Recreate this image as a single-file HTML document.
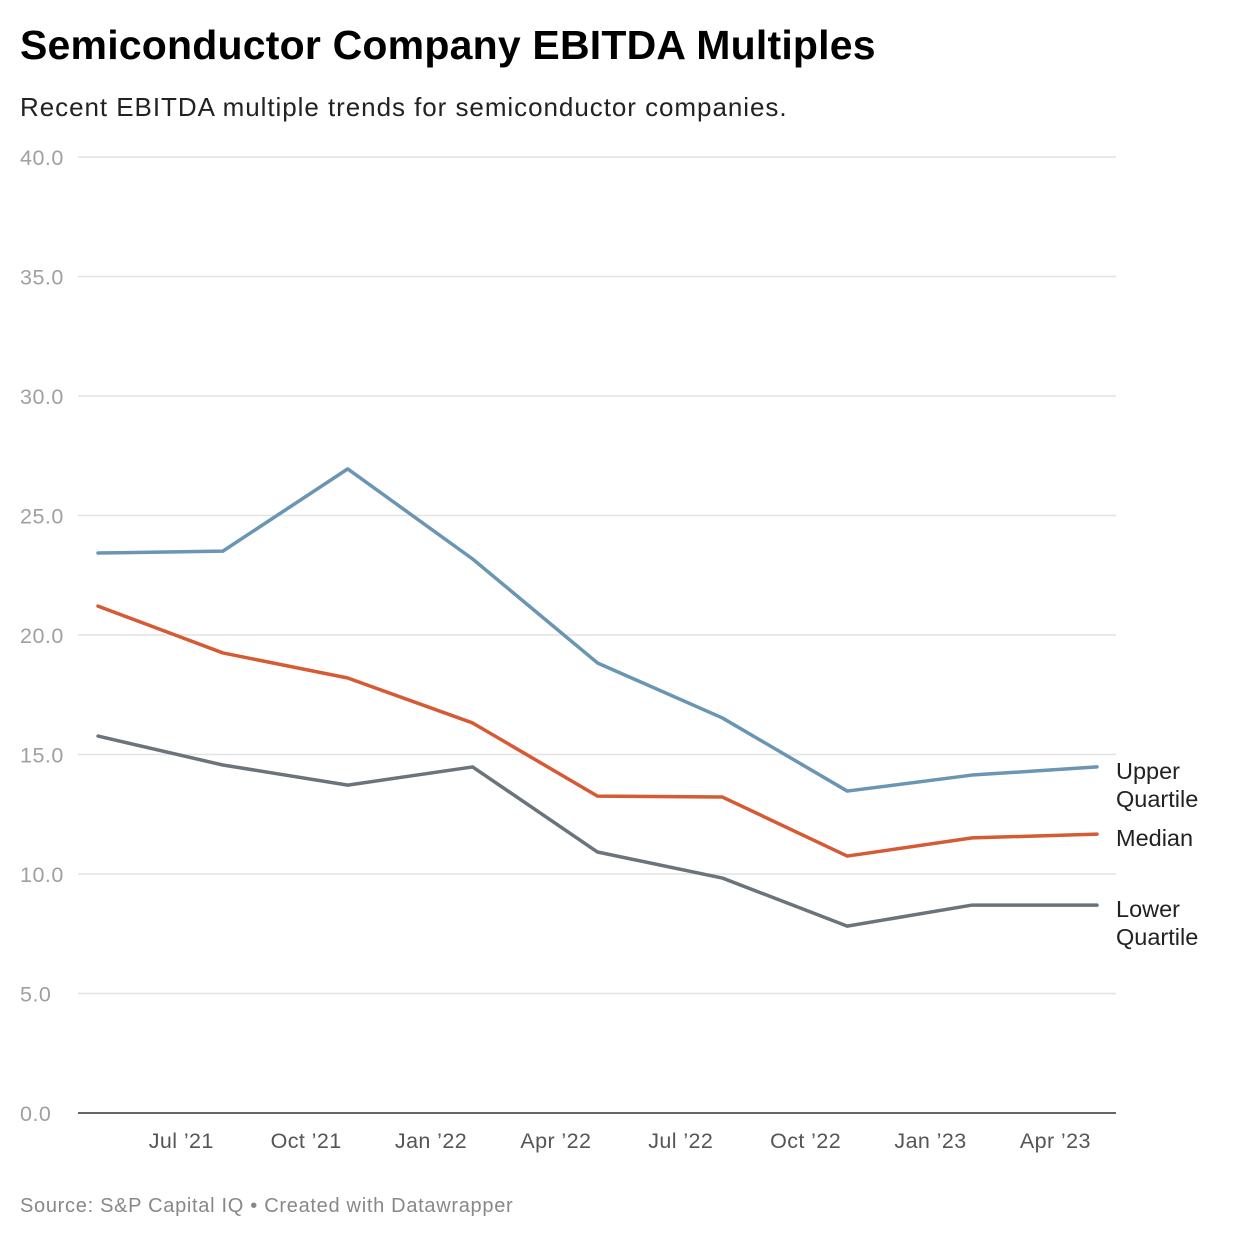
<!DOCTYPE html>
<html><head><meta charset="utf-8">
<style>
body{margin:0;background:#fff;font-family:"Liberation Sans",sans-serif;}
#wrap{position:relative;width:1240px;height:1240px;overflow:hidden}
.title{position:absolute;left:20px;top:22px;font-size:41px;font-weight:bold;color:#000;letter-spacing:0.2px}
.sub{position:absolute;left:20px;top:92px;font-size:26px;color:#222;letter-spacing:0.95px}
.src{position:absolute;left:20px;top:1195px;font-size:20px;color:#888;letter-spacing:0.7px}
</style></head><body>
<div id="wrap">
<div class="title">Semiconductor Company EBITDA Multiples</div>
<div class="sub">Recent EBITDA multiple trends for semiconductor companies.</div>
<svg id="chart" width="1240" height="1240" style="position:absolute;left:0;top:0"></svg>
<div class="src">Source: S&amp;P Capital IQ • Created with Datawrapper</div>
</div>
<script>
const upperValues=[23.43,23.51,26.95,23.18,18.83,16.53,13.47,14.14,14.48];
const medianValues=[21.21,19.25,18.20,16.32,13.26,13.22,10.75,11.51,11.67];
const lowerValues=[15.77,14.56,13.72,14.48,10.92,9.83,7.82,8.70,8.70];
const yTicks=[0,5,10,15,20,25,30,35,40];
const xTickLabels=["Jul ’21","Oct ’21","Jan ’22","Apr ’22","Jul ’22","Oct ’22","Jan ’23","Apr ’23"];

const svg=document.getElementById('chart');
const NS='http://www.w3.org/2000/svg';
function y(v){return 1113-v*(1113-157)/40;}
function x(m){return 98+m*(1097-98)/24;}
function mk(t,a){const e=document.createElementNS(NS,t);for(const k in a)e.setAttribute(k,a[k]);svg.appendChild(e);return e;}

yTicks.forEach(t=>{
  if(t>0){const g=mk('line',{x1:78,x2:1116,y1:y(t),y2:y(t),stroke:'#e3e3e3','stroke-width':1.5});
  
  }
  const l=mk('text',{x:20,y:y(t)+8,'font-size':21.5,fill:'#a0a0a0','font-family':'Liberation Sans, sans-serif','letter-spacing':0.5});
  l.textContent=t.toFixed(1);
  
  
});
const base=mk('line',{x1:78,x2:1116,y1:y(0),y2:y(0),stroke:'#333','stroke-width':1.5});



xTickLabels.forEach((s,i)=>{
  const l=mk('text',{x:x(2+3*i),y:1148,'font-size':21.5,fill:'#555','text-anchor':'middle','font-family':'Liberation Sans, sans-serif','letter-spacing':0.4});
  l.textContent=s;
  
  
});

function series(vals,color,name,labels){
  const pts=vals.map((v,i)=>x(3*i)+','+y(v)).join(' ');
  const p=mk('polyline',{points:pts,fill:'none',stroke:color,'stroke-width':3.5,'stroke-linejoin':'round','stroke-linecap':'round'});
  
  
  const ly=y(vals[vals.length-1]);
  labels.forEach((s,j)=>{
    const t=mk('text',{x:1116,y:ly+12+j*28,'font-size':23.5,fill:'#222','font-family':'Liberation Sans, sans-serif'});
    t.textContent=s;
    
    
  });
}
series(upperValues,'#6a95b3','upper-quartile',['Upper','Quartile']);
series(medianValues,'#d65a34','median',['Median']);
series(lowerValues,'#6b737b','lower-quartile',['Lower','Quartile']);
</script>
</body></html>
